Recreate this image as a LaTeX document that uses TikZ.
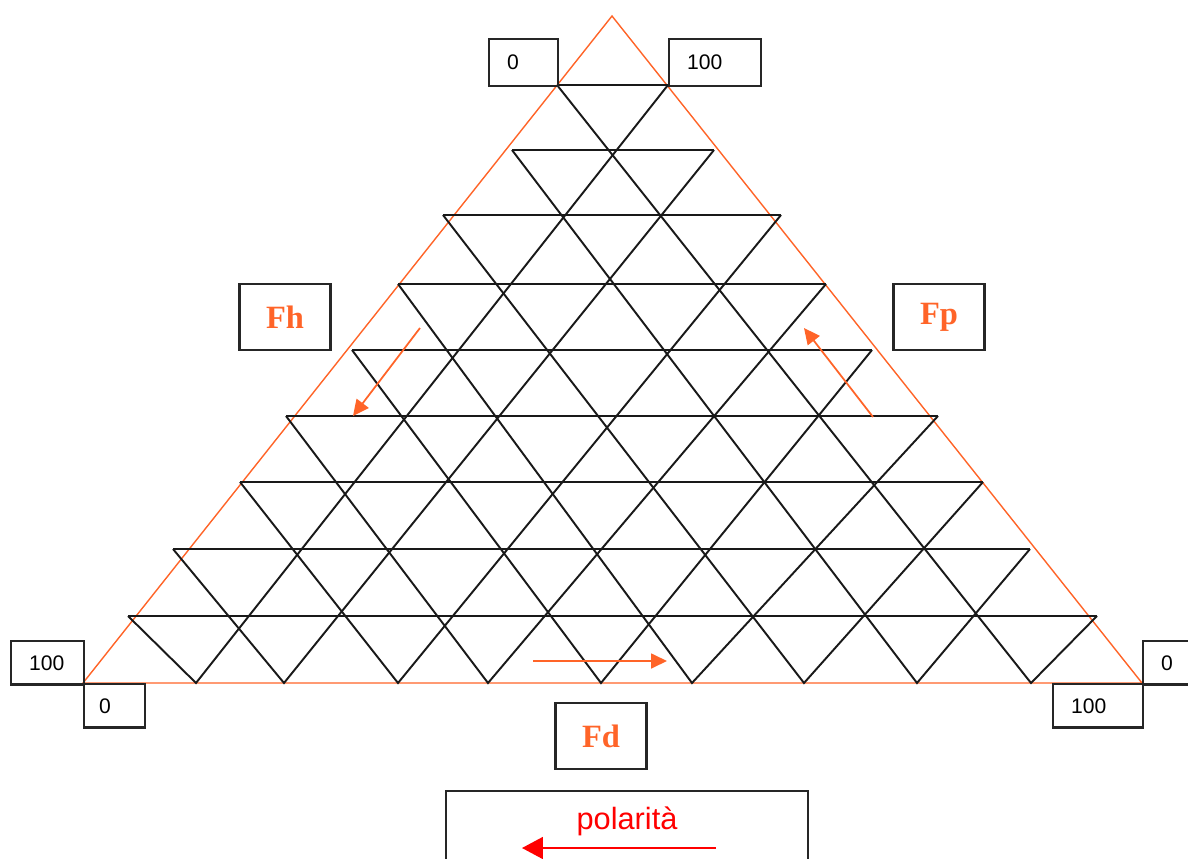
\documentclass[tikz,border=0pt]{standalone}
\usepackage{fontspec}
\setmainfont{Liberation Serif}
\setsansfont{Liberation Sans}
\usetikzlibrary{arrows.meta}
\definecolor{rimorange}{RGB}{255,100,40}

\begin{document}
\begin{tikzpicture}[
    x=0.02cm, y=-0.02cm,
    frame/.style={draw=black!85, line width=1.3pt},
    numbox/.style={frame, anchor=north west, align=left, inner xsep=0.36cm,
      inner ysep=0pt, text width=#1, minimum height=0.87cm,
      font=\sffamily\fontsize{12}{14}\selectfont},
    axisbox/.style={frame, minimum width=1.82cm, minimum height=1.32cm,
      text=rimorange, font=\rmfamily\bfseries\fontsize{18.5}{20}\selectfont},
    rim/.style={draw=rimorange, line width=0.8pt},
    gridline/.style={draw=black!90, line width=1.1pt},
    dirarrow/.style={rimorange, line width=1pt, -{Triangle[length=0.32cm, width=0.3cm]}},
    polarrow/.style={red, line width=1pt, -{Triangle[length=0.42cm, width=0.44cm]}}
  ]
  \useasboundingbox (0,0) rectangle (1188,859);

  % triangle
  \coordinate (apex) at (612,16);
  \coordinate (bl) at (83,683);
  \coordinate (br) at (1142,683);
  \draw[rim] (apex) -- (bl) -- (br) -- cycle;

  % rows, counted from the base
  \foreach \i/\y/\xl/\xr in {1/616/128/1097, 2/549/173/1030, 3/482/240/983,
      4/416/286/938, 5/350/352/872, 6/284/398/826, 7/215/443/781,
      8/150/512/714, 9/85/557/668} {
    \coordinate (L\i) at (\xl,\y);
    \coordinate (R\i) at (\xr,\y);
    \draw[gridline] (L\i) -- (R\i);
  }
  \foreach \k/\x in {1/196, 2/284, 3/398, 4/488, 5/601, 6/692, 7/804, 8/917, 9/1031}
    \coordinate (B\k) at (\x,683);
  \foreach \k in {1,...,9} {
    \pgfmathtruncatemacro{\m}{10-\k}
    \draw[gridline] (L\k) -- (B\k) -- (R\m);
  }

  % scale ends
  \node[numbox=0.66cm, minimum height=0.94cm] (top0) at (488,38) {0};
  \node[numbox=1.12cm, minimum height=0.94cm] (top100) at (668,38) {100};
  \node[numbox=0.74cm] (left100) at (10,640) {100};
  \node[numbox=0.62cm, inner xsep=0.3cm] (left0) at (83,683) {0};
  \node[numbox=0.60cm] (right0) at (1142,640) {0};
  \node[numbox=1.08cm] (right100) at (1052,683) {100};

  % axes
  \node[axisbox] (fh) at (285,317) {Fh};
  \node[axisbox] (fp) at (939,317) {Fp};
  \node[axisbox] (fd) at (601,736) {Fd};
  \coordinate (fhs) at (420,328);
  \coordinate (fhe) at (353,416);
  \coordinate (fps) at (873,417);
  \coordinate (fpe) at (804,328);
  \coordinate (fds) at (533,661);
  \coordinate (fde) at (667,661);
  \draw[dirarrow] (fhs) -- (fhe);
  \draw[dirarrow] (fps) -- (fpe);
  \draw[dirarrow] (fds) -- (fde);

  % polarity
  \node[frame, anchor=north west, minimum width=7.24cm, minimum height=2cm] (polbox) at (445,790) {};
  \node[text=red, font=\sffamily\fontsize{17.5}{20}\selectfont] (poltext) at (627,821) {polarità};
  \coordinate (pols) at (716,848);
  \coordinate (pole) at (522,848);
  \draw[polarrow] (pols) -- (pole);
\end{tikzpicture}
\end{document}
